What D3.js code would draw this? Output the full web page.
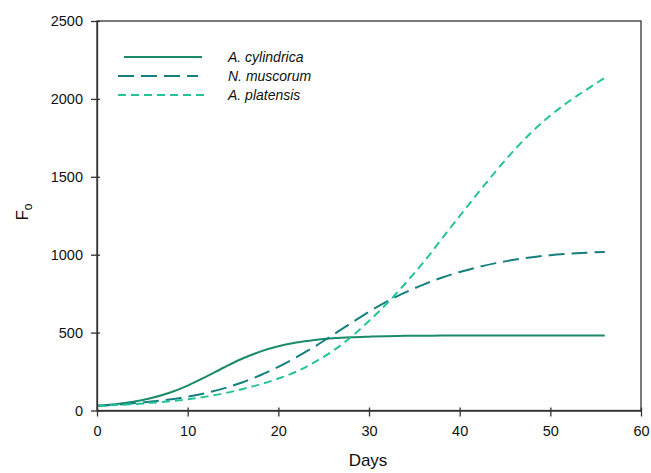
<!DOCTYPE html>
<html><head><meta charset="utf-8">
<script src="https://cdn.jsdelivr.net/npm/d3@7"></script>
<style>body{margin:0;background:#fff;} text{font-family:"Liberation Sans",Arial,sans-serif;}</style>
</head><body><svg id="c" width="651" height="473"></svg>
<script>
const days = [0,2,4,6,8,10,12,14,16,18,20,22,24,26,28,30,32,34,36,38,40,42,44,46,48,50,52,54,56];
const cylindrica = [30,40,56,80,114,160,216,276,332,378,412,436,452,463,470,474,477,479,480,481,481,481,481,481,481,481,481,481,481];
const muscorum = [30,37,46,57,71,89,112,142,180,226,280,342,410,484,560,634,700,758,808,852,889,920,946,967,984,997,1006,1013,1018];
const platensis = [30,35,41,49,59,72,89,110,137,168,205,250,310,382,470,575,688,815,950,1100,1248,1395,1537,1670,1790,1893,1982,2060,2135];
const seriesNames = ["A. cylindrica","N. muscorum","A. platensis"];
const xTicks = [0,10,20,30,40,50,60];
const yTicks = [0,500,1000,1500,2000,2500];

const svg = d3.select("#c");
const L=97, R=641, T=21, B=410.5;
const x = d3.scaleLinear().domain([0,60]).range([L,R]);
const y = d3.scaleLinear().domain([0,2500]).range([B,T]);

const colors = ["#1b8a6b","#15807f","#25c39a"];
const dashes = [null,"16,7","8,5"];
const data = [cylindrica, muscorum, platensis];

// frame
svg.append("rect").attr("x",L).attr("y",T).attr("width",R-L).attr("height",B-T)
  .attr("fill","none").attr("stroke","#333").attr("stroke-width",1.3);

const line = d3.line().x((d,i)=>x(days[i])).y(d=>y(d)).curve(d3.curveCatmullRom.alpha(0.5));
data.forEach((s,k)=>{
  svg.append("path").datum(s).attr("d",line).attr("fill","none")
    .attr("stroke",colors[k]).attr("stroke-width",2)
    .attr("stroke-dasharray",dashes[k]);
});

const fmt = d3.format("d");
const xa = svg.append("g").attr("transform",`translate(0,${B})`)
  .call(d3.axisBottom(x).tickValues(xTicks).tickFormat(fmt).tickSize(6).tickSizeOuter(0).tickPadding(9));
const ya = svg.append("g").attr("transform",`translate(${L},0)`)
  .call(d3.axisLeft(y).tickValues(yTicks).tickFormat(fmt).tickSize(6).tickSizeOuter(0).tickPadding(8));
[xa,ya].forEach(a=>{
  a.select(".domain").attr("stroke","#333").attr("stroke-width",1.3);
  a.selectAll(".tick line").attr("stroke","#333").attr("stroke-width",1.3);
  a.selectAll(".tick text").attr("font-size",14.5).attr("fill","#111")
   .attr("font-family","Liberation Sans, Arial, sans-serif");
});
xa.selectAll(".tick line").attr("y1",-3);
ya.selectAll(".tick line").attr("x1",3);

// axis labels
svg.append("text").attr("x",(L+R)/2-1).attr("y",466).attr("text-anchor","middle")
  .attr("font-size",17).attr("fill","#111").text("Days");
const yl = svg.append("text").attr("transform","translate(28,212) rotate(-90)")
  .attr("text-anchor","middle").attr("font-size",17).attr("fill","#111");
yl.append("tspan").text("F");
yl.append("tspan").attr("font-size",12).attr("dy",4).text("o");

// legend
const legY=[57,76,95], legX1=[124,118,118], legX2=[202,198,207];
seriesNames.forEach((n,k)=>{
  svg.append("line").attr("x1",legX1[k]).attr("x2",legX2[k]).attr("y1",legY[k]).attr("y2",legY[k])
    .attr("stroke",colors[k]).attr("stroke-width",2).attr("stroke-dasharray",dashes[k]);
  svg.append("text").attr("x",228).attr("y",legY[k]+5).attr("font-size",14)
    .attr("font-style","italic").attr("fill","#111").text(n);
});
</script></body></html>
